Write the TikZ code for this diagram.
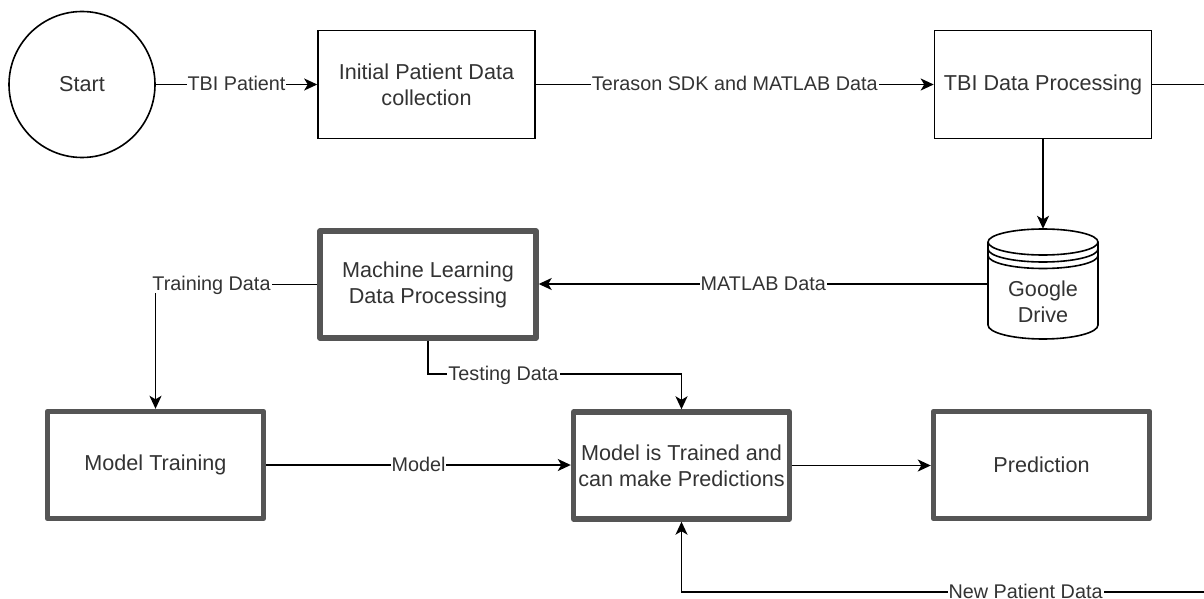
\documentclass[tikz,border=0pt]{standalone}
\usepackage{fontspec}
\setmainfont{Liberation Sans}
\usetikzlibrary{arrows.meta,calc}
\definecolor{txtgray}{HTML}{333333}
\definecolor{thickgray}{HTML}{555555}
\newcommand\mynodefont{\fontsize{21.6pt}{26pt}\selectfont}
\newcommand\myedgefont{\fontsize{19.8pt}{24pt}\selectfont}
\begin{document}
\begin{tikzpicture}[x=1pt,y=-1pt,
  every node/.style={text=txtgray},
  thinbox/.style={draw=black, line width=1.6pt, minimum width=217pt, minimum height=108pt, inner sep=0pt, align=center, font=\mynodefont},
  thickbox/.style={draw=thickgray, line width=5.4pt, line join=round, minimum width=216pt, minimum height=107pt, inner sep=0pt, align=center, font=\mynodefont},
  arr/.style={line width=1.7pt, -{Stealth[length=13pt,width=12pt,inset=3.5pt]}},
  conn/.style={line width=1.7pt},
  cyl/.style={line width=1.6pt},
  elabel/.style={fill=white, inner xsep=1pt, inner ysep=2pt, text height=14.3pt, text depth=0pt, font=\myedgefont, yshift=1pt}
]
\clip (0,0) rectangle (1204,599);
\fill[white] (0,0) rectangle (1204,599);

% nodes
\node[draw=black, circle, line width=1.6pt, minimum size=146pt, inner sep=0pt, font=\mynodefont] (start) at (82,84.5) {Start};
\node[thinbox] (init) at (426.5,84.5) {Initial Patient Data\\collection};
\node[thinbox] (tbi) at (1043,84.5) {TBI Data Processing};
\node[minimum width=110pt, minimum height=110pt, inner sep=0pt] (gd) at (1043,284) {};
\node[thickbox] (ml) at (428,284.5) {Machine Learning\\Data Processing};
\node[thickbox] (train) at (155.5,465) {Model Training};
\node[thickbox] (trained) at (681.5,465.5) {Model is Trained and\\can make Predictions};
\node[thickbox] (pred) at (1041.5,465) {Prediction};

% Google Drive datastore shape
\draw[cyl] (988,242) -- (988,325) arc[start angle=180, end angle=360, x radius=55pt, y radius=14pt] -- (1098,242);
\draw[cyl] (1043,242) ellipse [x radius=55pt, y radius=13pt];
\draw[cyl] (988,249) arc[start angle=180, end angle=360, x radius=55pt, y radius=13pt];
\draw[cyl] (988,255.5) arc[start angle=180, end angle=360, x radius=55pt, y radius=13pt];
\node[font=\mynodefont, align=center, inner sep=0pt] (gdlabel) at (1043,301.5) {Google\\Drive};

% helper coordinates
\coordinate (tjoin) at (579,374);
\coordinate (offr) at (1240,84.5);
\coordinate (offb) at (1240,592);

% connectors
\draw[arr] (start.east) -- node[elabel] {TBI Patient} (start.east -| init.west);
\draw[arr] (init.east) -- node[elabel] {Terason SDK and MATLAB Data} (tbi.west);
\draw[arr] (tbi.south) -- (gd.north);
\draw[arr] (gd.west) -- node[elabel] {MATLAB Data} (gd.west -| ml.east);
\draw[arr] (ml.west) -| node[elabel, pos=0.327] {Training Data} (train.north);
\draw[conn] (ml.south) |- node[elabel, pos=0.75] {Testing Data} (tjoin);
\draw[arr] (tjoin) -| (trained.north);
\draw[arr] (train.east) -- node[elabel] {Model} (train.east -| trained.west);
\draw[arr] (trained.east) -- (trained.east -| pred.west);
\draw[conn] (tbi.east) -- (offr) -- (offb);
\draw[arr] (offb) -| node[elabel, pos=0.192] {New Patient Data} (trained.south);
\end{tikzpicture}
\end{document}
